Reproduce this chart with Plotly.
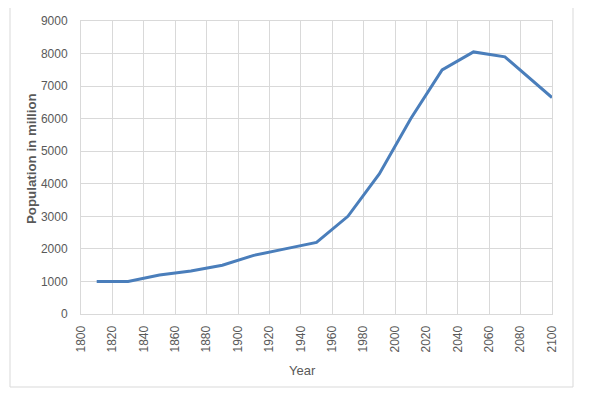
import plotly.graph_objects as go

years = [1810, 1830, 1850, 1870, 1890, 1910, 1930, 1950, 1970, 1990, 2010, 2030, 2050, 2070, 2100]
population = [1000, 1000, 1200, 1320, 1500, 1800, 2000, 2200, 3000, 4300, 6000, 7500, 8050, 7900, 6650]

x_ticks = list(range(1800, 2101, 20))
y_ticks = list(range(0, 9001, 1000))

# page body has an 8px default margin; compensate so plot lands where the reference has it
OFF = 8
W, H = 591, 399
px0, px1, py0, py1 = 81, 552, 21, 314  # plot area in screen pixels
L, T = px0 - OFF, py0 - OFF
R, B = W - (px1 - OFF), H - (py1 - OFF)
pw, ph = px1 - px0, py1 - py0


def paper_x(sx):
    return (sx - px0) / pw


def paper_y(sy):
    return (py1 - sy) / ph


fig = go.Figure()
fig.add_trace(go.Scatter(x=years, y=population, mode="lines",
                         line=dict(color="#4a7ebb", width=3), showlegend=False))

grid = "#d9d9d9"
txt = "#595959"
fig.update_layout(
    width=W, height=H,
    margin=dict(l=L, r=R, t=T, b=B, autoexpand=False),
    paper_bgcolor="white", plot_bgcolor="white",
    font=dict(family="Liberation Sans, Arial, sans-serif", size=12, color=txt),
    xaxis=dict(range=[1800, 2100], tickmode="array", tickvals=x_ticks,
               ticktext=[str(v) for v in x_ticks], tickangle=-90,
               showgrid=True, gridcolor=grid, gridwidth=1,
               showline=True, linecolor=grid, mirror=True, zeroline=False,
               ticks="outside", ticklen=6, tickcolor="rgba(0,0,0,0)"),
    yaxis=dict(range=[0, 9000], tickmode="array", tickvals=y_ticks,
               showgrid=True, gridcolor=grid, gridwidth=1,
               showline=True, linecolor=grid, mirror=True, zeroline=False,
               ticks="outside", ticklen=10, tickcolor="rgba(0,0,0,0)"),
    shapes=[dict(type="rect", xref="paper", yref="paper",
                 x0=paper_x(10), x1=paper_x(573),
                 y0=paper_y(387), y1=paper_y(5),
                 line=dict(color=grid, width=1), fillcolor="rgba(0,0,0,0)", layer="below")],
    annotations=[
        dict(text="Year", xref="paper", yref="paper", x=paper_x(302), y=paper_y(370),
             xanchor="center", yanchor="middle", showarrow=False,
             font=dict(size=13, color=txt)),
        dict(text="<b>Population in million</b>", xref="paper", yref="paper",
             x=paper_x(31), y=paper_y(159), textangle=-90,
             xanchor="center", yanchor="middle", showarrow=False,
             font=dict(size=13.3, color=txt)),
    ],
)

fig.write_html("out.html")
